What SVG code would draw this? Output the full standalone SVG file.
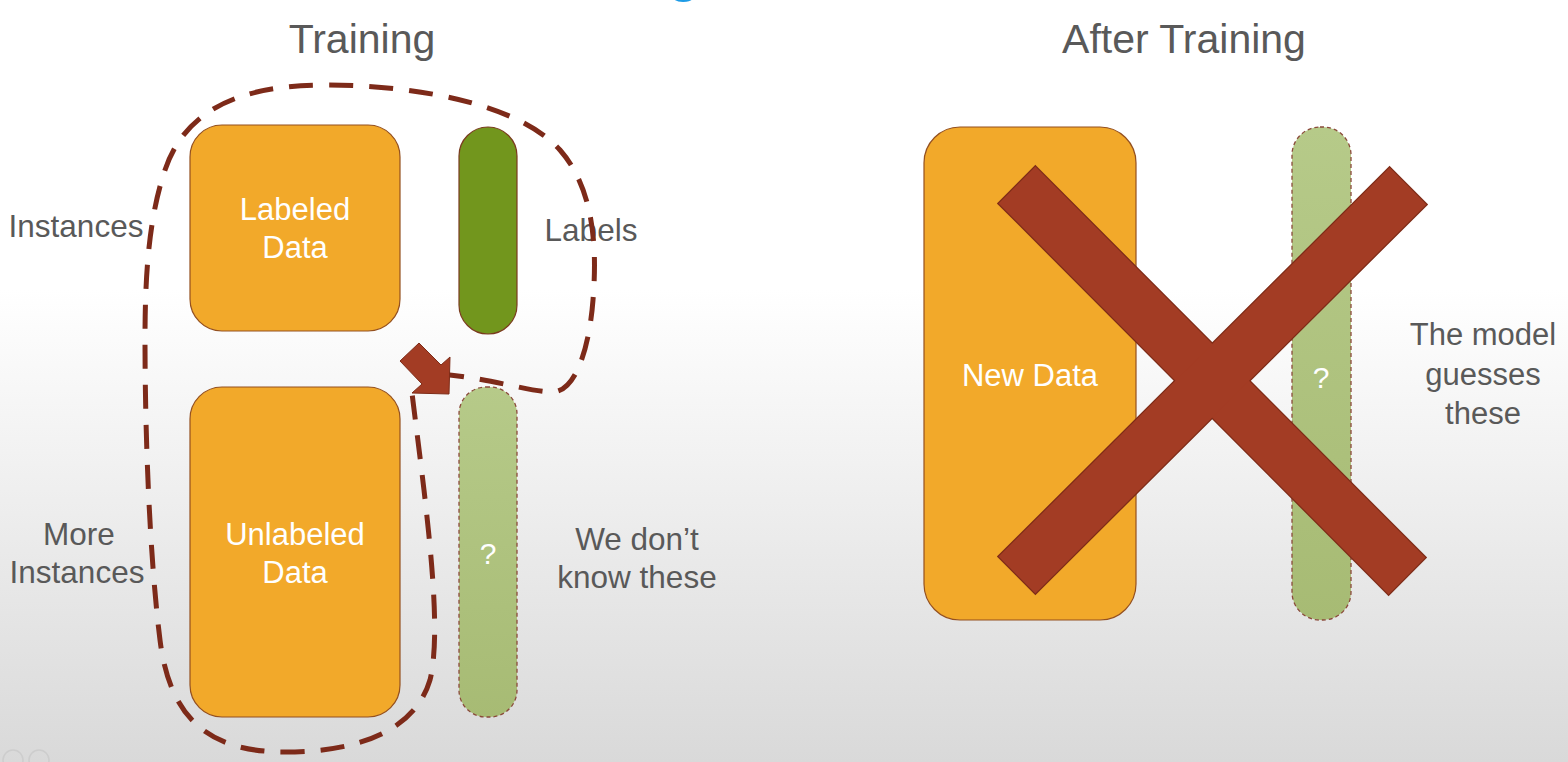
<svg xmlns="http://www.w3.org/2000/svg" width="1568" height="762" viewBox="0 0 1568 762">
<defs>
<linearGradient id="bg" x1="0" y1="0" x2="0" y2="1">
<stop offset="0" stop-color="#ffffff"/>
<stop offset="0.38" stop-color="#ffffff"/>
<stop offset="1" stop-color="#d9d9d9"/>
</linearGradient>
<linearGradient id="lg" x1="0" y1="0" x2="0" y2="1">
<stop offset="0" stop-color="#b6ca89"/>
<stop offset="1" stop-color="#a7bb74"/>
</linearGradient>
<style>
.t{font-family:"Liberation Sans",Arial,sans-serif;fill:#595959;text-anchor:middle}
.w{font-family:"Liberation Sans",Arial,sans-serif;fill:#ffffff;text-anchor:middle}
.org{fill:#f2a92a;stroke:#94501f;stroke-width:1.2}
.dg{fill:#72961d;stroke:#7a3b1e;stroke-width:1.2}
.lgb{fill:url(#lg);stroke:#8a4a3a;stroke-width:1.3;stroke-dasharray:4 3}
.xo{fill:#a33c24;stroke:#7e2c18;stroke-width:2.5}
.xf{fill:#a33c24}
.loop{fill:none;stroke:#7d2a19;stroke-width:5;stroke-dasharray:24 16}
</style>
</defs>
<rect x="0" y="0" width="1568" height="762" fill="url(#bg)"/>
<text x="667" y="-10" style="font-family:'Liberation Sans',Arial,sans-serif;font-size:60px;fill:#1e9be6">g</text>
<circle cx="13" cy="760" r="10" fill="none" stroke="#cdcdcd" stroke-width="1.5"/>
<circle cx="39" cy="760" r="10" fill="none" stroke="#cdcdcd" stroke-width="1.5"/>

<g id="title-training"><text class="t" x="362" y="53" font-size="41">Training</text></g>
<g id="title-after"><text class="t" x="1184" y="53" font-size="41">After Training</text></g>

<g id="labeled-data">
<rect class="org" x="190" y="125" width="210" height="206" rx="32"/>
<text class="w" x="295" y="220" font-size="31">Labeled</text>
<text class="w" x="295" y="258" font-size="31">Data</text>
</g>
<g id="labels-bar"><rect class="dg" x="459" y="127" width="58" height="207" rx="29"/></g>
<g id="unlabeled-data">
<rect class="org" x="190" y="387" width="210" height="330" rx="32"/>
<text class="w" x="295" y="545" font-size="31">Unlabeled</text>
<text class="w" x="295" y="583" font-size="31">Data</text>
</g>
<g id="unknown-bar">
<rect class="lgb" x="459" y="387" width="58" height="330" rx="27"/>
<text class="w" x="488" y="564" font-size="30">?</text>
</g>

<g id="label-instances"><text class="t" x="76" y="237" font-size="31.5">Instances</text></g>
<g id="label-labels"><text class="t" x="591" y="241" font-size="31.5">Labels</text></g>
<g id="label-more">
<text class="t" x="79" y="545" font-size="31.5">More</text>
<text class="t" x="77" y="583" font-size="31.5">Instances</text>
</g>
<g id="label-dontknow">
<text class="t" x="637" y="550" font-size="31.5">We don’t</text>
<text class="t" x="637" y="588" font-size="31.5">know these</text>
</g>

<g id="new-data">
<rect class="org" x="924" y="127" width="212" height="493" rx="36"/>
<text class="w" x="1030" y="386" font-size="31">New Data</text>
</g>
<g id="guess-bar">
<rect class="lgb" x="1292" y="127" width="59" height="493" rx="28"/>
<text class="w" x="1321" y="388" font-size="30">?</text>
</g>
<g id="label-guess">
<text class="t" x="1483" y="345" font-size="31">The model</text>
<text class="t" x="1483" y="385" font-size="31">guesses</text>
<text class="t" x="1483" y="424" font-size="31">these</text>
</g>

<g id="cross">
<polygon class="xo" points="1035.4,166.6 1425.4,557.6 1388.6,594.4 998.6,203.4"/>
<polygon class="xo" points="1389.6,167.6 1426.4,204.4 1035.4,593.4 998.6,556.6"/>
<polygon class="xf" points="1035.4,166.6 1425.4,557.6 1388.6,594.4 998.6,203.4"/>
<polygon class="xf" points="1389.6,167.6 1426.4,204.4 1035.4,593.4 998.6,556.6"/>
</g>

<g id="connectors">
<path class="loop" d="M 440,374 C 490,378 530,392 552,392 C 578,392 590,340 593,300 C 597,250 595,190 560,150 C 520,105 420,85 325,85 C 240,85 185,110 165,170 C 148,220 145,280 145,340 C 145,440 150,560 160,640 C 170,720 210,752 285,752 C 360,752 415,730 430,680 C 440,640 432,560 424,490 C 418,440 414,410 412,393"/>
<polygon points="419,343 441,365 450,357 449,394 412,393 422,384 400,361" fill="#a33c24" stroke="#7e2c18" stroke-width="1"/>
</g>
</svg>
